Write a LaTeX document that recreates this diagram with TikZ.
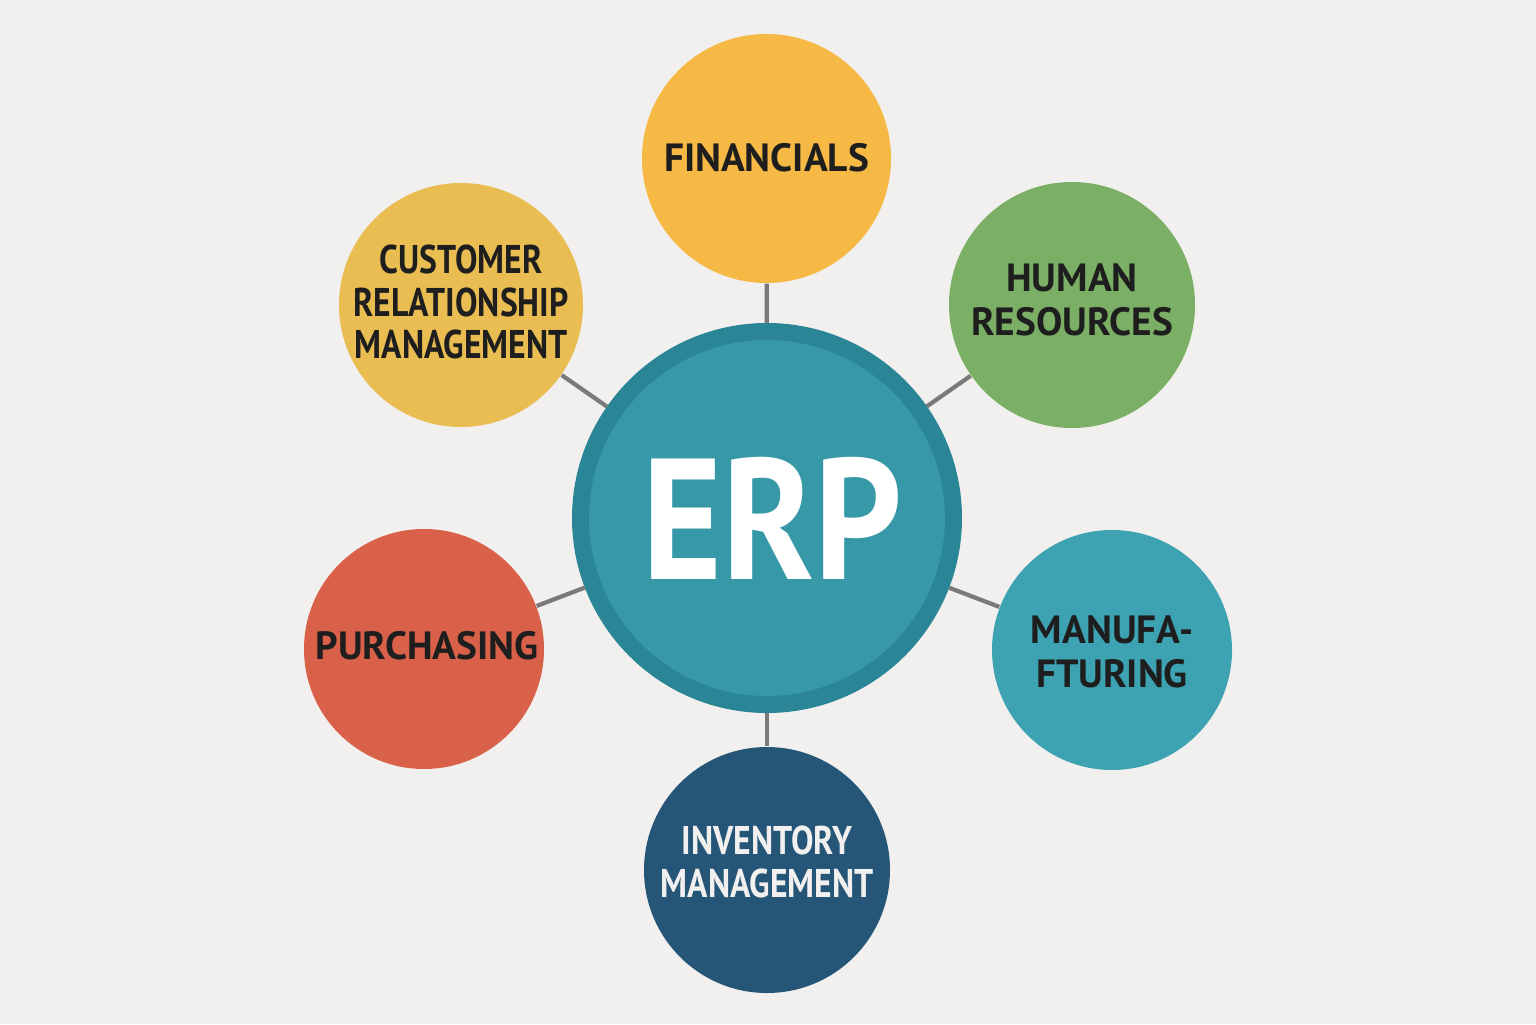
\documentclass[tikz,border=0pt]{standalone}
\usepackage{fontspec}
\setmainfont{PT Sans}
\newfontfamily\hubfont[FakeStretch=0.89]{PT Sans}
\newfontfamily\narrowfont[FakeStretch=0.84]{PT Sans}
\definecolor{paper}{HTML}{F1F0EE}
\definecolor{ink}{HTML}{1E1E1E}
\definecolor{linkgray}{HTML}{7A7A7A}
\definecolor{hubring}{HTML}{2A8696}
\definecolor{hubfill}{HTML}{3799A8}
\definecolor{finfill}{HTML}{F6B945}
\definecolor{crmfill}{HTML}{E9BD52}
\definecolor{hrfill}{HTML}{7BAF65}
\definecolor{purfill}{HTML}{D9614A}
\definecolor{manfill}{HTML}{3DA2B2}
\definecolor{invfill}{HTML}{255677}
\tikzset{
    module/.style={circle, minimum size=2.44cm, inner sep=0pt},
    modtext/.style={align=center, text=ink, inner sep=0pt,
                    font=\fontsize{11.2}{12.6}\selectfont\bfseries},
    narrowtext/.style={modtext, font=\narrowfont\fontsize{11.4}{12.2}\selectfont\bfseries},
    hub/.style={circle, fill=hubfill, draw=hubring, line width=0.17cm,
                minimum size=3.73cm, outer sep=0.085cm, text=white,
                font=\hubfont\fontsize{49}{50}\selectfont\bfseries},
    link/.style={draw=linkgray, line width=1.2pt},
}
\newcommand{\erpmodule}[5][]{
    \node[module, #1, label={[modtext, #4]center:{#5}}] (#2) at (#3) {};
}
\newcommand{\erplink}[2]{
    \draw[link] (#1) -- (#2);
}

\begin{document}
\begin{tikzpicture}
    \fill[paper] (0,0) rectangle (15.36,10.24);
    \path[use as bounding box] (0,0) rectangle (15.36,10.24);

    \node[hub] (erp) at (7.67,5.06) {\hspace{0.1cm}ERP};

    \erpmodule[fill=finfill, minimum size=2.49cm]{fin}{7.665,8.655}{yshift=0.01cm}{FINANCIALS}
    \erpmodule[fill=crmfill]{crm}{4.61,7.19}{narrowtext, yshift=0.03cm}{CUSTOMER\\RELATIONSHIP\\MANAGEMENT}
    \erpmodule[fill=hrfill, minimum size=2.46cm]{hr}{10.72,7.19}{yshift=0.05cm}{HUMAN\\RESOURCES}
    \erpmodule[fill=purfill, minimum size=2.40cm]{pur}{4.24,3.75}{yshift=0.03cm, xshift=0.03cm}{PURCHASING}
    \erpmodule[fill=manfill, minimum size=2.40cm]{man}{11.12,3.74}{yshift=-0.02cm}{MANUFA-\\FTURING}
    \erpmodule[fill=invfill, minimum size=2.46cm]{inv}{7.67,1.54}{narrowtext, text=paper, yshift=0.08cm}{INVENTORY\\MANAGEMENT}

    \erplink{erp}{fin}
    \erplink{erp}{crm}
    \erplink{erp}{hr}
    \erplink{erp}{pur}
    \erplink{erp}{man}
    \erplink{erp}{inv}

\end{tikzpicture}
\end{document}
